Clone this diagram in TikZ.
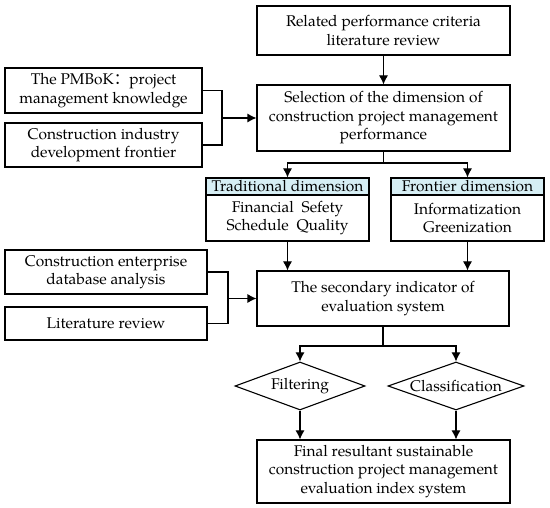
\documentclass[tikz,border=0pt]{standalone}
\usepackage{fontspec}
\setmainfont{TeX Gyre Pagella}
\newfontfamily\cjk{Noto Sans CJK SC}
\usetikzlibrary{arrows.meta,shapes.geometric}
\definecolor{headblue}{RGB}{214,238,244}

\begin{document}
\begin{tikzpicture}[x=1pt, y=-1pt,
    box/.style={draw=black, line width=1.1pt, align=center, inner sep=0pt, font=\fontsize{15.5}{18.5}\selectfont},
    head/.style={box, fill=headblue},
    dec/.style={diamond, draw=black, line width=1.1pt, inner sep=0pt, aspect=2.8, font=\fontsize{15.5}{18.5}\selectfont},
    line/.style={line width=1.1pt},
    arr/.style={line, -{Latex[length=9pt, width=9pt]}}]
    \useasboundingbox (0,0) rectangle (550,508);

    %Nodes
    \node[box, minimum width=253pt, minimum height=49pt] at (383.5,30.5) (lit) {Related performance criteria\\literature review};
    \node[box, minimum width=253pt, minimum height=66pt] at (383.5,118) (sel) {Selection of the dimension of\\construction project management\\performance};
    \node[box, minimum width=197pt, minimum height=45pt] at (103.5,90.5) (pmbok) {The PMBoK{\cjk ：}project\\management knowledge};
    \node[box, minimum width=197pt, minimum height=44pt] at (103.5,145) (ind) {Construction industry\\development frontier};
    \node[head, minimum width=163pt, minimum height=17pt] at (287.5,186.5) (tradh) {Traditional dimension};
    \node[box, minimum width=163pt, minimum height=46pt] at (287.5,218) (tradb) {Financial\enspace Sefety\\Schedule\enspace Quality};
    \node[head, minimum width=153pt, minimum height=17pt] at (467.5,186.5) (fronth) {Frontier dimension};
    \node[box, minimum width=153pt, minimum height=46pt] at (467.5,218) (frontb) {Informatization\\Greenization};
    \node[box, minimum width=202pt, minimum height=44pt] at (106,272) (ent) {Construction enterprise\\database analysis};
    \node[box, minimum width=202pt, minimum height=33pt] at (106,323.5) (rev) {Literature review};
    \node[box, minimum width=252pt, minimum height=55pt] at (383,298.5) (sec) {The secondary indicator of\\evaluation system};
    \node[dec, minimum width=130pt, minimum height=48pt] at (300,386) (filt) {Filtering};
    \node[dec, minimum width=136pt, minimum height=48pt] at (456,386) (cls) {Classification};
    \node[box, minimum width=253pt, minimum height=63pt] at (383.5,471.5) (fin) {Final resultant sustainable\\construction project management\\evaluation index system};

    \coordinate (ja) at (222,118);
    \coordinate (jb) at (383.5,163);
    \coordinate (jc) at (228,298.5);
    \coordinate (jd) at (383,346);

    %Lines
    \draw[arr] (lit) -- (sel);
    \draw[line] (pmbok.east) -| (ja);
    \draw[line] (ind.east) -| (ja);
    \draw[arr] (ja) -- (sel.west);
    \draw[line] (sel.south) -- (jb);
    \draw[arr] (jb) -| (tradh.north);
    \draw[arr] (jb) -| (fronth.north);
    \draw[arr] (tradb.south) -- (tradb.south |- sec.north);
    \draw[arr] (frontb.south) -- (frontb.south |- sec.north);
    \draw[line] (ent.east) -| (jc);
    \draw[line] (rev.east) -| (jc);
    \draw[arr] (jc) -- (sec.west);
    \draw[line] (sec.south) -- (jd);
    \draw[arr] (jd) -| (filt.north);
    \draw[arr] (jd) -| (cls.north);
    \draw[arr] (filt.south) -- (filt.south |- fin.north);
    \draw[arr] (cls.south) -- (cls.south |- fin.north);
\end{tikzpicture}
\end{document}
